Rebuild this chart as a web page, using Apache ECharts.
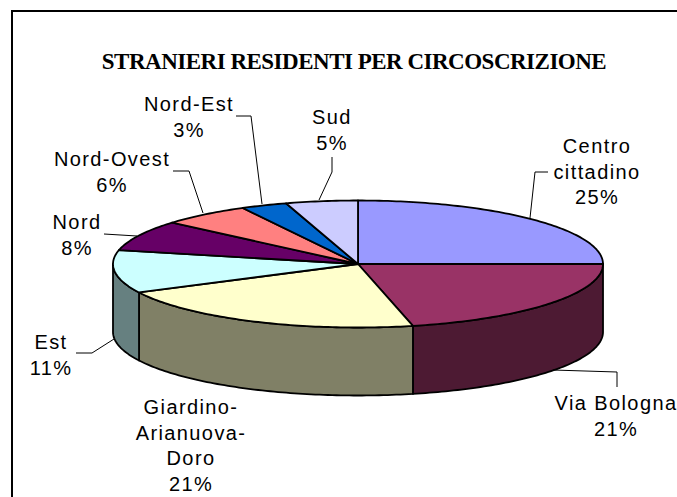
<!DOCTYPE html>
<html><head><meta charset="utf-8">
<style>
html,body{margin:0;padding:0;background:#fff}
#c{width:677px;height:497px}
text{letter-spacing:1.4px}
text[style*="Serif"]{letter-spacing:-.5px}
</style>
<script src="https://cdn.jsdelivr.net/npm/echarts@6/dist/echarts.min.js"></script>
</head><body><div id="c"></div>
<script>
const titleText = 'STRANIERI RESIDENTI PER CIRCOSCRIZIONE';
const categories = ['Centro\ncittadino','Via Bologna','Giardino-\nArianuova-\nDoro','Est','Nord','Nord-Ovest','Nord-Est','Sud'];
const values = [25,21.4,21.2,10.9,7.8,5.9,3.05,4.75];
const topColors = ['#9999FF','#993366','#FFFFCC','#CCFFFF','#660066','#FF8080','#0066CC','#CCCCFF'];
const sideColors = ['#4D4D80','#4D1A33','#808066','#668080','#330033','#804040','#003366','#666680'];

// layout (kept apart from the data)
const cx = 358, cy = 264, rx = 245, ry = 63.5, depth = 68;
const labelLineHeight = 25.7;
const labelAnchors = [[597,146],[616,403],[191,407],[51,342],[77,222],[112,159],[189,104],[332,117]];
const leaders = [
  [[530,218],[535,172],[548,172]],
  [[553,370],[617,372],[617,387]],
  [],
  [[114,339],[92,353],[76,353]],
  [[137,236],[104,234]],
  [[203,213],[189,171],[173,171]],
  [[262,204],[251,116],[236,116]],
  [[319,200],[332,172],[332,157]]
];
const total = values.reduce((a,b)=>a+b,0);
function pt(deg, dy){ const r = deg*Math.PI/180; return [cx+rx*Math.sin(r), cy-ry*Math.cos(r)+(dy||0)]; }

function renderItem(params, api){
  const i = params.dataIndex;
  let before = 0;
  for(let k=0;k<i;k++) before += values[k];
  const a0 = before/total*360, a1 = (before+api.value(0))/total*360;
  const children = [];
  const s0 = Math.max(a0,90), s1 = Math.min(a1,270);
  if(s1>s0){
    const up=[],down=[];
    for(let d=s0;d<s1;d+=1){up.push(pt(d));down.unshift(pt(d,depth));}
    up.push(pt(s1));down.unshift(pt(s1,depth));
    children.push({type:'polygon',shape:{points:up.concat(down)},z2:1,
      style:{fill:sideColors[i],stroke:'#000',lineWidth:1.8,lineJoin:'round'}});
  }
  const top=[[cx,cy]];
  for(let d=a0;d<a1;d+=1) top.push(pt(d));
  top.push(pt(a1));
  children.push({type:'polygon',shape:{points:top},z2:2,
    style:{fill:topColors[i],stroke:'#000',lineWidth:1.8,lineJoin:'round'}});
  return {type:'group',children};
}

const graphics = [
  {type:'rect',shape:{x:12,y:11,width:720,height:540},style:{fill:'none',stroke:'#000',lineWidth:2},z:0}
];
categories.forEach((c,i)=>{
  graphics.push({type:'text',x:labelAnchors[i][0],y:labelAnchors[i][1]-labelLineHeight/2,z:5,
    style:{text:c+'\n'+Math.round(values[i])+'%',fontFamily:'Liberation Sans',fontSize:20,lineHeight:labelLineHeight,
      fill:'#000',align:'center',verticalAlign:'top'}});
  if(leaders[i].length)
    graphics.push({type:'polyline',z:5,shape:{points:leaders[i]},style:{stroke:'#000',lineWidth:1,fill:'none'}});
});

const chart = echarts.init(document.getElementById('c'),null,{renderer:'svg'});
chart.setOption({
  animation:false,
  backgroundColor:'#fff',
  title:{text:titleText,left:349,top:45,textAlign:'center',
    textStyle:{fontFamily:'Liberation Serif',fontSize:23,fontWeight:'bold',color:'#000'}},
  graphic:{elements:graphics},
  series:[{type:'custom',coordinateSystem:'none',renderItem,
    data:values.map((v,i)=>({name:categories[i],value:[v]}))}]
});
</script></body></html>
